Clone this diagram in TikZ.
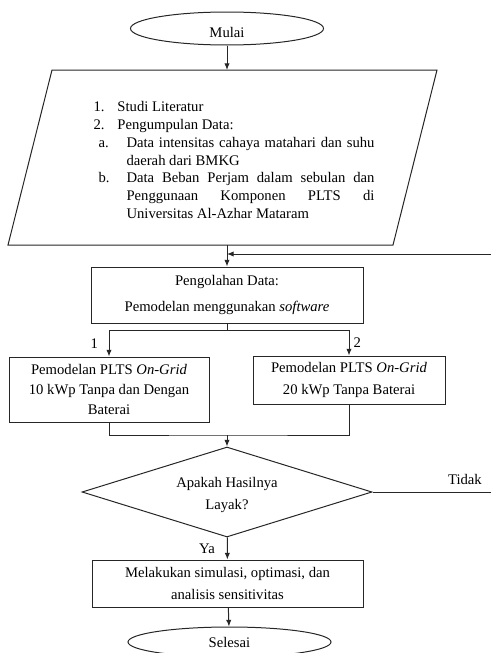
\documentclass[tikz,border=0pt]{standalone}
\usepackage{fontspec}
\setmainfont{Liberation Serif}
\usetikzlibrary{shapes.geometric}
\usetikzlibrary{arrows.meta}

\newcommand{\itemlabel}[3]{\hspace*{#1}\makebox[#2][l]{#3}}
\newcommand{\fullline}[1]{\makebox[186pt][s]{#1}}

\tikzset{
  base/.style={draw=black!85, line width=0.75pt, font=\fontsize{11}{13.3}\selectfont, inner sep=0pt},
  terminal/.style={base, ellipse, minimum width=144.75pt, minimum height=24.75pt},
  listtext/.style={font=\fontsize{11}{13.3}\selectfont, inner sep=0pt, align=left},
  process/.style={base, rectangle, align=center},
  decision/.style={base, diamond, aspect=3.25, minimum width=217.5pt, minimum height=67.5pt, align=center},
  flow/.style={line width=0.75pt, draw=black!85, -{Latex[length=5pt,width=4pt]}},
  line/.style={line width=0.75pt, draw=black!85},
  tag/.style={font=\fontsize{11}{13.3}\selectfont, inner sep=3pt},
}

\begin{document}
\begin{tikzpicture}[x=0.75pt,y=-0.75pt]
\useasboundingbox (0,0) rectangle (490,653);

% input / data block
\draw[line] (52,70) coordinate (ptop) -- (437,70) -- (393,245) -- (8,245) coordinate (pbot) -- cycle;
\node[listtext] (data) at (234,160) {%
\itemlabel{0pt}{18pt}{1.}Studi Literatur\\
\itemlabel{0pt}{18pt}{2.}Pengumpulan Data:\\
\itemlabel{3.75pt}{21pt}{a.}\fullline{Data intensitas cahaya matahari dan suhu}\\
\hspace*{24.75pt}daerah dari BMKG\\
\itemlabel{3.75pt}{21pt}{b.}\fullline{Data Beban Perjam dalam sebulan dan}\\
\hspace*{24.75pt}\fullline{Penggunaan Komponen PLTS di}\\
\hspace*{24.75pt}Universitas Al-Azhar Mataram};

\node[terminal] (mulai) at (227,28.5) {\rule{0pt}{14pt}Mulai};
\node[process, minimum width=204pt, minimum height=42pt] (olah) at (227,295)
  {Pengolahan Data:\\[6.4pt] Pemodelan menggunakan \textit{software}};
\node[process, minimum width=150pt, minimum height=48.75pt] (m1) at (109,389.5)
  {Pemodelan PLTS \textit{On-Grid}\\[1.9pt] 10 kWp Tanpa dan Dengan\\[1.9pt] Baterai};
\node[process, minimum width=144pt, minimum height=36pt] (m2) at (349,380)
  {Pemodelan PLTS \textit{On-Grid}\\[2.6pt] 20 kWp Tanpa Baterai};
\node[decision] (layak) at (227,492) {\rule{0pt}{12.5pt}Apakah Hasilnya\\[3.2pt] Layak?};
\node[process, minimum width=203.25pt, minimum height=35.25pt] (sim) at (227.5,583.5)
  {Melakukan simulasi, optimasi, dan\\[3.4pt] analisis sensitivitas};
\node[terminal, minimum width=152.25pt, minimum height=22.5pt] (selesai) at (229.5,642) {Selesai};

\coordinate (back) at (227,254);
\coordinate (split) at (227,330);
\coordinate (merge) at (227,435);

\draw[flow] (mulai) -- (mulai |- ptop);
\draw[flow] (olah.north |- pbot) -- (olah.north);
\draw[line] (olah) -- (split);
\draw[flow] (split) -| node[tag, pos=0.75, left=5pt] {1} (m1);
\draw[flow] (split) -| node[tag, pos=0.75, right] {2} (m2);
\draw[line] (m1) |- (merge) -| (m2);
\draw[flow] (merge) -- (layak);
\draw[flow] (layak) -- node[tag, left=6pt] {Ya} (sim);
\draw[flow] (sim) -- (selesai);
\draw[flow] (layak.east) -- node[tag, pos=0.66, above=2.5pt] {Tidak} ++(140,0) |- (back);

\end{tikzpicture}
\end{document}
